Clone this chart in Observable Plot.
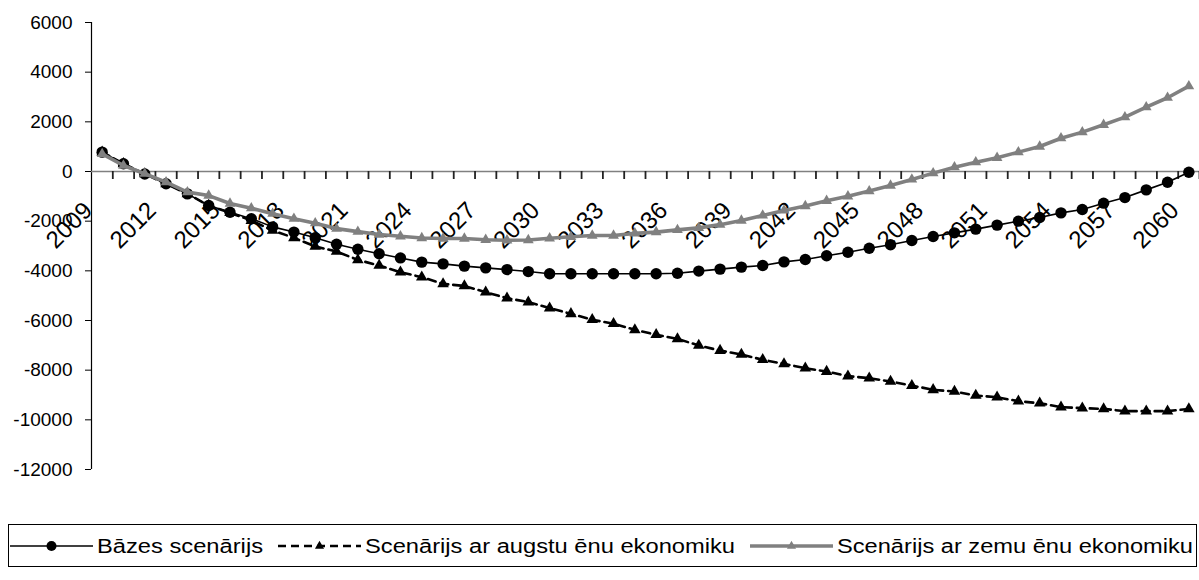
<!DOCTYPE html>
<html>
<head>
<meta charset="utf-8">
<script src="https://cdn.jsdelivr.net/npm/d3@7"></script>
<script src="https://cdn.jsdelivr.net/npm/@observablehq/plot@0.6"></script>
<style>
  html, body { margin: 0; padding: 0; background: #fff; overflow: hidden; }
  body { width: 1199px; height: 580px; position: relative; font-family: "Liberation Sans", Arial, sans-serif; }
  #chart { position: absolute; left: 0; top: 0; }
  #legend { position: absolute; left: 8px; top: 524px; }
  #legend svg { display: block; }
</style>
</head>
<body>
<div id="chart"></div>
<div id="legend"></div>
<script>
// ---- data ----
const years = [2009,2010,2011,2012,2013,2014,2015,2016,2017,2018,2019,2020,2021,2022,2023,2024,2025,2026,2027,2028,2029,2030,2031,2032,2033,2034,2035,2036,2037,2038,2039,2040,2041,2042,2043,2044,2045,2046,2047,2048,2049,2050,2051,2052,2053,2054,2055,2056,2057,2058,2059,2060];
const labelYears = [2009,2012,2015,2018,2021,2024,2027,2030,2033,2036,2039,2042,2045,2048,2051,2054,2057,2060];
const yTicks = [-12000,-10000,-8000,-6000,-4000,-2000,0,2000,4000,6000];
const seriesNames = ["Bāzes scenārijs", "Scenārijs ar augstu ēnu ekonomiku", "Scenārijs ar zemu ēnu ekonomiku"];

const base = [780,310,-100,-495,-900,-1370,-1640,-1900,-2230,-2440,-2670,-2930,-3130,-3315,-3480,-3650,-3720,-3810,-3880,-3950,-4030,-4120,-4120,-4120,-4120,-4120,-4120,-4100,-4010,-3930,-3850,-3785,-3640,-3545,-3395,-3250,-3090,-2950,-2780,-2620,-2470,-2320,-2160,-2000,-1850,-1665,-1530,-1275,-1050,-740,-430,-30];
const high = [780,310,-100,-495,-900,-1370,-1660,-1975,-2375,-2670,-3020,-3220,-3560,-3785,-4055,-4255,-4525,-4610,-4860,-5100,-5260,-5500,-5730,-5970,-6130,-6375,-6575,-6740,-7005,-7210,-7370,-7580,-7745,-7920,-8055,-8240,-8320,-8455,-8620,-8790,-8860,-9020,-9090,-9250,-9330,-9490,-9530,-9560,-9650,-9650,-9650,-9560];
const low = [710,240,-90,-430,-830,-970,-1290,-1480,-1700,-1900,-2080,-2300,-2420,-2540,-2610,-2680,-2700,-2700,-2750,-2770,-2760,-2690,-2630,-2580,-2580,-2490,-2440,-2350,-2270,-2140,-1975,-1770,-1570,-1390,-1180,-1000,-790,-565,-320,-65,175,375,550,780,1005,1340,1585,1880,2190,2590,2970,3435];

const rows = years.map((yr, i) => ({year: yr, base: base[i], high: high[i], low: low[i]}));
const boundaries = years.map(y => ({pos: y + 0.5}));
const grey = "#808080";
const font = '"Liberation Sans", Arial, sans-serif';

const W = 1199, H = 490, MT = 22, MB = 21, ML = 91;
const yMin = yTicks[0], yMax = yTicks[yTicks.length - 1];
// category-axis tick length (8px) expressed in y units
const tickLen = 8 * (yMax - yMin) / (H - MT - MB);

const chart = Plot.plot({
  width: W,
  height: H,
  marginLeft: ML,
  marginRight: 0,
  marginTop: MT,
  marginBottom: MB,
  style: {fontFamily: font, fontSize: "19px", color: "#000", background: "#fff"},
  x: {domain: [years[0] - 0.5, years[years.length - 1] + 0.5], axis: null},
  y: {domain: [yMin, yMax], axis: null},
  marks: [
    Plot.axisY({ticks: yTicks, tickSize: 6, tickPadding: 13, tickFormat: d => String(d), fontSize: 19, stroke: "#000"}),
    Plot.ruleX([years[0] - 0.5], {stroke: "#000", strokeWidth: 1.2}),
    Plot.ruleY([0], {stroke: grey, strokeWidth: 1.6}),
    Plot.ruleX(boundaries, {x: "pos", y1: d => 0, y2: d => -tickLen, stroke: "#222", strokeWidth: 1.8}),
    Plot.text(labelYears, {x: d => d, y: () => 0, text: d => String(d), rotate: -45, textAnchor: "end", dx: -14, dy: 35, fontSize: 24, fill: "#000"}),
    Plot.line(rows, {x: "year", y: "base", stroke: "#000", strokeWidth: 1.6}),
    Plot.dot(rows, {x: "year", y: "base", r: 5.7, fill: "#000", stroke: "none"}),
    Plot.line(rows, {x: "year", y: "high", stroke: "#000", strokeWidth: 2.6, strokeDasharray: "8,5"}),
    Plot.dot(rows, {x: "year", y: "high", symbol: "triangle", r: 4.3, fill: "#000", stroke: "none"}),
    Plot.line(rows, {x: "year", y: "low", stroke: grey, strokeWidth: 3.6}),
    Plot.dot(rows, {x: "year", y: "low", symbol: "triangle", r: 4, fill: grey, stroke: "none"})
  ]
});
document.getElementById("chart").appendChild(chart);

// ---- legend (below the plot) ----
const LW = 1189, LH = 43;
const lsvg = d3.create("svg").attr("width", LW).attr("height", LH)
  .style("font-family", font);
lsvg.append("rect").attr("x", 0.5).attr("y", 0.5).attr("width", LW - 1).attr("height", LH - 1)
  .attr("fill", "#fff").attr("stroke", "#000").attr("stroke-width", 1);
const items = [
  {x0: 2, x1: 85, stroke: "#000", sw: 1.6, dash: null, marker: "circle", fill: "#000", tx: 89, tw: 166},
  {x0: 270, x1: 353, stroke: "#000", sw: 2.6, dash: "8,5", marker: "triangle", fill: "#000", tx: 357, tw: 370},
  {x0: 742, x1: 825, stroke: grey, sw: 3.6, dash: null, marker: "triangle", fill: grey, tx: 829, tw: 356}
];
const cy = 22;
items.forEach((it, i) => {
  lsvg.append("line").attr("x1", it.x0).attr("x2", it.x1).attr("y1", cy).attr("y2", cy)
    .attr("stroke", it.stroke).attr("stroke-width", it.sw).attr("stroke-dasharray", it.dash);
  const sym = it.marker === "circle" ? d3.symbolCircle : d3.symbolTriangle;
  const size = it.marker === "circle" ? Math.PI * 5 * 5 : 36;
  lsvg.append("path").attr("transform", `translate(${(it.x0 + it.x1) / 2},${cy})`)
    .attr("d", d3.symbol(sym, size)()).attr("fill", it.fill);
  lsvg.append("text").attr("x", it.tx).attr("y", cy).attr("dy", "0.35em")
    .attr("font-size", 20).attr("fill", "#000")
    .attr("textLength", it.tw).attr("lengthAdjust", "spacingAndGlyphs")
    .text(seriesNames[i]);
});
document.getElementById("legend").appendChild(lsvg.node());
</script>
</body>
</html>
